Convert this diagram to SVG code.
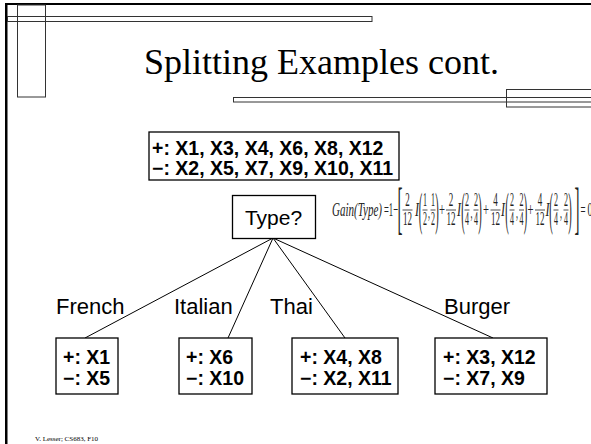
<svg xmlns="http://www.w3.org/2000/svg" width="591" height="444" viewBox="0 0 591 444">
<style>
.deco{fill:none;stroke:#333;stroke-width:1;}
.box{fill:#fff;stroke:#000;stroke-width:1.3;}
.bt{font-family:"Liberation Sans",Arial,sans-serif;font-weight:bold;font-size:19.5px;fill:#000;}
.lbl{font-family:"Liberation Sans",Arial,sans-serif;font-size:22px;fill:#000;}
.edge{stroke:#000;stroke-width:1;fill:none;}
.title{font-family:"Liberation Serif","Times New Roman",serif;font-size:36px;fill:#000;}
.f{font-family:"Liberation Serif","Times New Roman",serif;font-size:19px;fill:#222;text-anchor:middle;}
.fl{font-family:"Liberation Serif","Times New Roman",serif;font-size:19px;fill:#222;}
.fi{font-style:italic;}
.br{font-size:57px;}
.pa{font-size:47px;}
.bar{stroke:#222;stroke-width:0.8;}
.foot{font-family:"Liberation Serif","Times New Roman",serif;font-size:7px;fill:#000;}
</style>
<rect width="591" height="444" fill="#fff"/>
<g id="frame">
 <rect x="5" y="3" width="586" height="2" fill="#000"/>
 <rect x="5" y="3" width="2.5" height="441" fill="#000"/>
 <rect class="deco" x="7.5" y="16.5" width="364.5" height="5"/>
 <rect class="deco" x="17.5" y="5" width="28" height="92"/>
 <rect class="deco" x="233.5" y="97.5" width="370" height="4.5"/>
 <rect class="deco" x="506.5" y="89.5" width="100" height="17.5"/>
</g>
<text class="title" x="144" y="74">Splitting Examples cont.</text>
<g id="connectors">
 <line class="edge" x1="273" y1="238" x2="85" y2="338"/>
 <line class="edge" x1="273" y1="238" x2="228" y2="338"/>
 <line class="edge" x1="273" y1="238" x2="345" y2="338"/>
 <line class="edge" x1="273" y1="238" x2="493" y2="338"/>
 <text class="lbl" x="56" y="314">French</text>
 <text class="lbl" x="174" y="314">Italian</text>
 <text class="lbl" x="270" y="314">Thai</text>
 <text class="lbl" x="444" y="314">Burger</text>
</g>
<g id="node-all">
 <rect class="box" x="149" y="132" width="250" height="48"/>
 <text class="bt" x="152" y="155">+: X1, X3, X4, X6, X8, X12</text>
 <text class="bt" x="152" y="175">−: X2, X5, X7, X9, X10, X11</text>
</g>
<g id="node-type">
 <rect class="box" x="232.5" y="195.5" width="83" height="43"/>
 <text class="lbl" x="273.5" y="225" style="font-size:21px" text-anchor="middle">Type?</text>
</g>
<g id="node-french">
 <rect class="box" x="56" y="338" width="62" height="56"/>
 <text class="bt" x="63" y="364">+: X1</text>
 <text class="bt" x="63" y="385">−: X5</text>
</g>
<g id="node-italian">
 <rect class="box" x="179" y="338" width="73" height="56"/>
 <text class="bt" x="186" y="364">+: X6</text>
 <text class="bt" x="186" y="385">−: X10</text>
</g>
<g id="node-thai">
 <rect class="box" x="292" y="338" width="106" height="56"/>
 <text class="bt" x="300" y="364">+: X4, X8</text>
 <text class="bt" x="300" y="385">−: X2, X11</text>
</g>
<g id="node-burger">
 <rect class="box" x="435" y="338" width="112" height="56"/>
 <text class="bt" x="443" y="364">+: X3, X12</text>
 <text class="bt" x="443" y="385">−: X7, X9</text>
</g>
<g id="gain">
 <text class="fl fi" x="332" y="216" textLength="50" lengthAdjust="spacingAndGlyphs">Gain(Type)</text>
 <text class="fl" x="384" y="216" textLength="14" lengthAdjust="spacingAndGlyphs">=1−</text>
 <text class="f br" x="400" y="226.5" textLength="5" lengthAdjust="spacingAndGlyphs">[</text>
 <text class="f" x="407.5" y="206" textLength="4.5" lengthAdjust="spacingAndGlyphs">2</text>
 <line class="bar" x1="402.5" y1="210" x2="412.5" y2="210"/>
 <text class="f" x="407.5" y="225" textLength="9" lengthAdjust="spacingAndGlyphs">12</text>
 <text class="f fi" x="417" y="216" textLength="4" lengthAdjust="spacingAndGlyphs">I</text>
 <text class="f pa" x="420.5" y="225" textLength="3.5" lengthAdjust="spacingAndGlyphs">(</text>
 <text class="f" x="425" y="206" textLength="4" lengthAdjust="spacingAndGlyphs">1</text>
 <line class="bar" x1="422.5" y1="210" x2="427.5" y2="210"/>
 <text class="f" x="425" y="225" textLength="4" lengthAdjust="spacingAndGlyphs">2</text>
 <text class="f" x="429" y="218" textLength="2" lengthAdjust="spacingAndGlyphs">,</text>
 <text class="f" x="433" y="206" textLength="4" lengthAdjust="spacingAndGlyphs">1</text>
 <line class="bar" x1="430.5" y1="210" x2="435.5" y2="210"/>
 <text class="f" x="433" y="225" textLength="4" lengthAdjust="spacingAndGlyphs">2</text>
 <text class="f pa" x="437" y="225" textLength="3.5" lengthAdjust="spacingAndGlyphs">)</text>
 <text class="f" x="442" y="216" textLength="6" lengthAdjust="spacingAndGlyphs">+</text>
 <text class="f" x="451" y="206" textLength="4.5" lengthAdjust="spacingAndGlyphs">2</text>
 <line class="bar" x1="446" y1="210" x2="456" y2="210"/>
 <text class="f" x="451" y="225" textLength="9" lengthAdjust="spacingAndGlyphs">12</text>
 <text class="f fi" x="459" y="216" textLength="4" lengthAdjust="spacingAndGlyphs">I</text>
 <text class="f pa" x="463" y="225" textLength="3.5" lengthAdjust="spacingAndGlyphs">(</text>
 <text class="f" x="467" y="206" textLength="4" lengthAdjust="spacingAndGlyphs">2</text>
 <line class="bar" x1="464.5" y1="210" x2="469.5" y2="210"/>
 <text class="f" x="467" y="225" textLength="4" lengthAdjust="spacingAndGlyphs">4</text>
 <text class="f" x="471.5" y="218" textLength="2" lengthAdjust="spacingAndGlyphs">,</text>
 <text class="f" x="476" y="206" textLength="4" lengthAdjust="spacingAndGlyphs">2</text>
 <line class="bar" x1="473.5" y1="210" x2="478.5" y2="210"/>
 <text class="f" x="476" y="225" textLength="4" lengthAdjust="spacingAndGlyphs">4</text>
 <text class="f pa" x="480" y="225" textLength="3.5" lengthAdjust="spacingAndGlyphs">)</text>
 <text class="f" x="486" y="216" textLength="6" lengthAdjust="spacingAndGlyphs">+</text>
 <text class="f" x="495.5" y="206" textLength="4.5" lengthAdjust="spacingAndGlyphs">4</text>
 <line class="bar" x1="490.5" y1="210" x2="500.5" y2="210"/>
 <text class="f" x="495.5" y="225" textLength="9" lengthAdjust="spacingAndGlyphs">12</text>
 <text class="f fi" x="503" y="216" textLength="4" lengthAdjust="spacingAndGlyphs">I</text>
 <text class="f pa" x="507" y="225" textLength="3.5" lengthAdjust="spacingAndGlyphs">(</text>
 <text class="f" x="512" y="206" textLength="4" lengthAdjust="spacingAndGlyphs">2</text>
 <line class="bar" x1="509.5" y1="210" x2="514.5" y2="210"/>
 <text class="f" x="512" y="225" textLength="4" lengthAdjust="spacingAndGlyphs">4</text>
 <text class="f" x="517" y="218" textLength="2" lengthAdjust="spacingAndGlyphs">,</text>
 <text class="f" x="521.5" y="206" textLength="4" lengthAdjust="spacingAndGlyphs">2</text>
 <line class="bar" x1="519" y1="210" x2="524" y2="210"/>
 <text class="f" x="521.5" y="225" textLength="4" lengthAdjust="spacingAndGlyphs">4</text>
 <text class="f pa" x="525.5" y="225" textLength="3.5" lengthAdjust="spacingAndGlyphs">)</text>
 <text class="f" x="530.5" y="216" textLength="6" lengthAdjust="spacingAndGlyphs">+</text>
 <text class="f" x="540" y="206" textLength="4.5" lengthAdjust="spacingAndGlyphs">4</text>
 <line class="bar" x1="535" y1="210" x2="545" y2="210"/>
 <text class="f" x="540" y="225" textLength="9" lengthAdjust="spacingAndGlyphs">12</text>
 <text class="f fi" x="547.5" y="216" textLength="4" lengthAdjust="spacingAndGlyphs">I</text>
 <text class="f pa" x="551" y="225" textLength="3.5" lengthAdjust="spacingAndGlyphs">(</text>
 <text class="f" x="556" y="206" textLength="4" lengthAdjust="spacingAndGlyphs">2</text>
 <line class="bar" x1="553.5" y1="210" x2="558.5" y2="210"/>
 <text class="f" x="556" y="225" textLength="4" lengthAdjust="spacingAndGlyphs">4</text>
 <text class="f" x="561" y="218" textLength="2" lengthAdjust="spacingAndGlyphs">,</text>
 <text class="f" x="566" y="206" textLength="4" lengthAdjust="spacingAndGlyphs">2</text>
 <line class="bar" x1="563.5" y1="210" x2="568.5" y2="210"/>
 <text class="f" x="566" y="225" textLength="4" lengthAdjust="spacingAndGlyphs">4</text>
 <text class="f pa" x="570" y="225" textLength="3.5" lengthAdjust="spacingAndGlyphs">)</text>
 <text class="f br" x="577" y="226.5" textLength="5" lengthAdjust="spacingAndGlyphs">]</text>
 <text class="f" x="583" y="216" textLength="5" lengthAdjust="spacingAndGlyphs">=</text>
 <text class="f" x="590" y="216" textLength="5" lengthAdjust="spacingAndGlyphs">0</text>
</g>
<text class="foot" x="35" y="441">V. Lesser; CS683, F10</text>
</svg>
